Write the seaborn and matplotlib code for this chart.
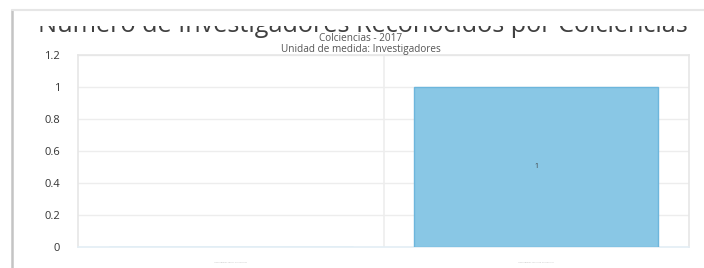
import matplotlib
matplotlib.use("Agg")
import matplotlib.pyplot as plt
import seaborn as sns
import pandas as pd
from matplotlib.lines import Line2D
from matplotlib.patches import Rectangle

# ---- data ----
categories = ["Investigador Sénior Colciencias", "Investigador Asociado Colciencias"]
values = [0, 1]
yticks = [0, 0.2, 0.4, 0.6, 0.8, 1, 1.2]
ytick_labels = ["0", "0.2", "0.4", "0.6", "0.8", "1", "1.2"]
title = "Número de Investigadores Reconocidos por Colciencias"
subtitle1 = "Colciencias - 2017"
subtitle2 = "Unidad de medida: Investigadores"

df = pd.DataFrame({"categoria": categories, "valor": values})

sns.set_theme(style="white")
plt.rcParams["font.family"] = ["Open Sans", "DejaVu Sans"]

W, H = 704, 268
fig = plt.figure(figsize=(W / 100, H / 100), dpi=100)
fig.patch.set_facecolor("white")

L, R, T, B = 78, 689, 55, 247
ax = fig.add_axes([L / W, 1 - B / H, (R - L) / W, (B - T) / H])

sns.barplot(data=df, x="categoria", y="valor", color="#89C7E5", saturation=1,
            edgecolor="#6DB6DC", linewidth=1.0, width=0.8, ax=ax, zorder=3)
# zero-height bar shows as a faint line
ax.patches[0].set_edgecolor("#CFE6F3")

ax.set_ylim(0, 1.2)
ax.set_xlim(-0.5, 1.5)
ax.set_yticks(yticks)
ax.set_yticklabels(ytick_labels, fontsize=8, color="#333333")
ax.tick_params(axis="y", length=0, pad=13)
ax.tick_params(axis="x", length=0, pad=11)
for lbl in ax.get_xticklabels():
    lbl.set_fontsize(1.6)
    lbl.set_color("#BBBBBB")
ax.set_xlabel("")
ax.set_ylabel("")

ax.grid(axis="y", color="#EDEDED", linewidth=1, zorder=0)
ax.axvline(0.5, color="#EDEDED", linewidth=1.2, zorder=0)
for s in ax.spines.values():
    s.set_color("#E6E6E6")
    s.set_linewidth(1.2)
ax.spines["bottom"].set_color("#E3EEF5")

# value labels
for i, v in enumerate(values):
    if v > 0:
        ax.text(i, v / 2, f"{v}", ha="center", va="center", fontsize=5, color="#404040", zorder=5)

# title (top part hidden like in the reference)
t = fig.text(0.515, 1 - 32.5 / H, title, ha="center", va="baseline",
             fontsize=16, color="#404040", zorder=3)
fig.canvas.draw()
w = t.get_window_extent().width
t.set_fontsize(16 * 651 / w)
fig.add_artist(Rectangle((0, 1 - 25.5 / H), 1, 25.5 / H, transform=fig.transFigure,
                         facecolor="white", edgecolor="none", zorder=4))

fig.text(0.512, 1 - 44 / H, subtitle1 + "\n" + subtitle2, ha="center", va="center",
         fontsize=7.2, linespacing=0.95, color="#555555", zorder=3)

# frame lines (left border and top shadow)
fig.add_artist(Line2D([12 / W, 12 / W], [0, 1 - 10 / H], color="#C4C4C4", linewidth=1.8,
                      transform=fig.transFigure, zorder=6))
fig.add_artist(Line2D([12 / W, 1], [1 - 9.5 / H, 1 - 9.5 / H], color="#E6E6E6", linewidth=1.5,
                      transform=fig.transFigure, zorder=6))

fig.savefig("out.png", dpi=100, facecolor="white")
